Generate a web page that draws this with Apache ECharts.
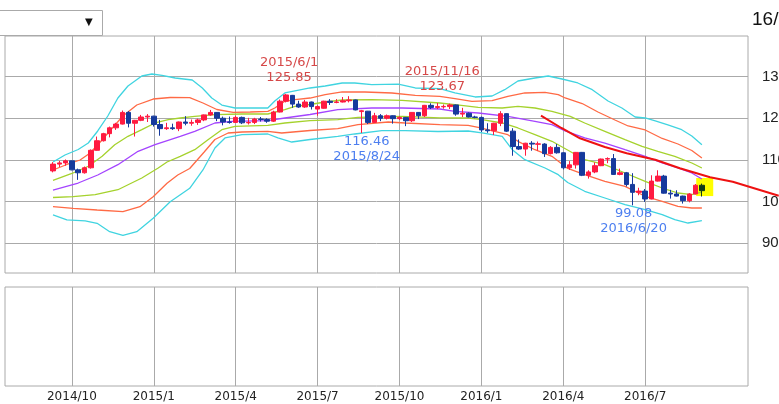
<!DOCTYPE html>
<html><head><meta charset="utf-8">
<script src="https://cdn.jsdelivr.net/npm/echarts@6/dist/echarts.min.js"></script>
<style>html,body{margin:0;padding:0;background:#fff}#c{width:779px;height:404px}</style>
</head><body><div id="c"></div>
<script>
// ---- weekly candles (Monday of each week) ----
const dates = [
'2014-09-15','2014-09-22','2014-09-29','2014-10-06','2014-10-13','2014-10-20','2014-10-27','2014-11-03','2014-11-10','2014-11-17','2014-11-24','2014-12-01','2014-12-08','2014-12-15','2014-12-22','2014-12-29',
'2015-01-05','2015-01-12','2015-01-19','2015-01-26','2015-02-02','2015-02-09','2015-02-16','2015-02-23','2015-03-02','2015-03-09','2015-03-16','2015-03-23','2015-03-30','2015-04-06','2015-04-13','2015-04-20','2015-04-27','2015-05-04','2015-05-11','2015-05-18','2015-05-25','2015-06-01','2015-06-08','2015-06-15','2015-06-22','2015-06-29','2015-07-06','2015-07-13','2015-07-20','2015-07-27','2015-08-03','2015-08-10','2015-08-17','2015-08-24','2015-08-31','2015-09-07','2015-09-14','2015-09-21','2015-09-28','2015-10-05','2015-10-12','2015-10-19','2015-10-26','2015-11-02','2015-11-09','2015-11-16','2015-11-23','2015-11-30','2015-12-07','2015-12-14','2015-12-21','2015-12-28',
'2016-01-04','2016-01-11','2016-01-18','2016-01-25','2016-02-01','2016-02-08','2016-02-15','2016-02-22','2016-02-29','2016-03-07','2016-03-14','2016-03-21','2016-03-28','2016-04-04','2016-04-11','2016-04-18','2016-04-25','2016-05-02','2016-05-09','2016-05-16','2016-05-23','2016-05-30','2016-06-06','2016-06-13','2016-06-20','2016-06-27','2016-07-04','2016-07-11','2016-07-18','2016-07-25','2016-08-01','2016-08-08','2016-08-15','2016-08-22','2016-08-29','2016-09-05'];
const opens = [107.35,108.98,109.27,109.76,107.6,106.9,108.1,112.3,114.6,116.3,117.7,118.6,121.4,118.8,119.5,120.3,
120.5,118.5,117.5,117.7,117.5,119.1,118.8,119.0,119.6,120.8,121.4,120.0,119.1,119.0,120.2,118.9,119.0,119.8,119.7,119.3,121.5,124.1,125.5,123.4,122.7,123.9,122.2,122.4,124.1,123.8,123.9,124.2,124.4,121.6,121.7,119.0,120.6,120.0,120.6,119.9,120.2,119.4,121.4,120.6,123.1,122.6,122.75,122.8,123.2,121.0,121.2,120.3,
120.2,117.2,117.0,118.8,121.1,116.9,113.2,112.6,114.0,113.75,113.8,111.5,113.0,111.7,108.1,108.8,111.8,106.3,107.1,108.6,110.2,110.3,106.5,106.9,104.1,102.2,102.5,100.6,104.9,106.1,102.0,101.8,101.3,100.2,101.8,103.9];
const closes = [108.98,109.27,109.76,107.6,106.9,108.1,112.3,114.6,116.3,117.7,118.6,121.4,118.8,119.5,120.3,120.5,
118.5,117.5,117.7,117.5,119.1,118.8,119.0,119.6,120.8,121.4,120.0,119.1,119.0,120.2,118.9,119.0,119.8,119.7,119.3,121.5,124.1,125.6,123.4,122.7,123.9,122.8,122.8,124.1,123.8,123.9,124.2,124.4,122.0,121.8,119.0,120.6,120.0,120.6,119.9,120.2,119.4,121.4,120.6,123.1,122.6,122.8,122.85,123.2,121.0,121.2,120.3,120.2,
117.2,117.0,118.8,121.1,116.9,113.2,112.6,114.0,113.8,113.85,111.5,113.0,111.7,108.1,108.8,111.8,106.3,107.1,108.6,110.2,110.3,106.5,106.9,104.1,102.2,102.5,100.6,104.9,106.1,102.0,101.8,101.3,100.2,101.8,103.9,102.6];
const lows = [107.0,108.3,108.6,107.5,105.2,106.7,107.9,112.2,114.4,115.4,117.2,118.5,117.8,115.6,119.3,119.1,
118.0,115.8,117.2,117.2,116.9,118.3,118.2,118.4,119.3,120.6,119.3,118.3,118.7,118.9,118.6,118.5,118.6,119.2,118.9,119.1,121.4,123.8,122.5,122.5,122.5,122.1,120.6,122.3,123.2,123.6,123.8,123.8,121.9,116.46,118.6,118.9,119.3,119.7,118.7,119.6,118.1,119.1,119.8,120.3,122.2,122.2,122.3,122.2,120.6,120.3,120.2,120.0,
116.7,116.5,115.97,118.1,116.7,110.99,112.4,111.0,112.2,112.2,110.7,111.3,111.5,107.7,107.6,107.9,106.1,105.5,106.8,108.5,109.2,106.4,106.3,103.6,99.08,101.5,99.9,100.5,104.8,101.9,100.7,101.2,99.5,99.8,101.7,101.2];
const highs = [109.46,109.75,110.09,109.8,107.9,108.4,112.5,115.6,116.5,118.0,118.9,121.85,121.7,119.6,120.8,121.0,
120.6,119.6,118.9,118.7,119.2,120.5,119.7,119.9,120.9,122.0,121.5,120.4,120.4,120.6,120.4,120.1,120.1,120.3,120.0,121.8,124.5,125.85,125.6,124.2,124.4,124.0,123.1,124.2,124.6,124.6,125.1,125.3,124.5,122.0,121.75,121.3,121.0,120.9,120.7,120.5,120.3,121.5,121.5,123.2,123.6,123.67,123.3,123.5,123.3,122.5,121.4,120.6,
120.4,118.8,118.9,121.7,121.2,117.6,114.9,114.1,114.5,114.4,114.0,113.3,113.8,111.8,109.7,111.9,111.9,107.5,109.4,110.3,110.6,111.4,107.9,107.1,106.8,103.3,103.0,106.3,107.5,106.4,102.8,102.7,101.4,102.0,104.2,104.3];

// ---- band lines [week index, value] ----
const band3Up = [[0,109.49],[1.9,111.17],[4.0,112.49],[5.6,114.05],[7.1,116.94],[8.7,120.54],[10.3,124.86],[11.9,127.75],[14.1,130.15],[15.7,130.63],[17.3,130.32],[19.4,129.67],[22.1,129.19],[23.7,127.27],[25.2,124.86],[26.8,123.18],[28.9,122.46],[31.6,122.46],[34.1,122.46],[35.2,124.14],[36.8,126.07],[38.4,126.55],[40.8,127.27],[43.2,127.75],[45.9,128.47],[47.9,128.47],[50.6,128.06],[54.8,128.2],[57.5,127.27],[61.4,127.10],[63.8,126.07],[67.0,125.11],[69.7,125.35],[71.7,126.86],[73.8,128.95],[76.5,129.67],[78.6,130.15],[80.8,129.43],[83.3,128.47],[85.6,126.86],[88.1,124.14],[90.3,122.46],[92.4,120.30],[94.0,120.06],[95.6,119.34],[97.6,118.38],[99.8,117.25],[101.4,115.74],[103.0,113.65]];
const band2Up = [[0,107.57],[2.2,108.89],[4.3,109.97],[5.9,111.65],[7.5,114.29],[9.0,116.94],[11.1,120.54],[13.3,123.18],[15.9,124.62],[18.6,124.98],[21.7,124.94],[23.8,123.66],[26.0,122.10],[28.6,121.43],[31.3,121.50],[34.1,121.67],[35.2,122.46],[36.8,124.07],[38.4,124.46],[40.8,124.86],[43.2,125.66],[45.9,126.31],[49.5,126.31],[53.8,126.07],[57.5,125.51],[61.4,125.27],[63.8,124.70],[66.5,124.07],[69.7,124.22],[72.2,125.27],[74.9,126.07],[78.1,126.23],[80.2,125.66],[81.3,124.87],[84.0,123.54],[86.5,121.50],[89.2,119.58],[91.3,118.14],[94.0,117.18],[96.7,115.14],[99.2,113.81],[101.4,112.25],[103.0,110.45]];
const band1Up = [[0,105.05],[3.0,106.73],[5.6,108.46],[7.8,110.86],[9.8,113.65],[11.9,115.66],[14.1,117.25],[16.2,118.86],[18.3,119.65],[20.2,120.06],[22.5,120.47],[25.7,120.85],[30.0,121.02],[34.1,121.02],[36.8,122.05],[38.4,122.87],[40.8,123.30],[43.2,123.90],[45.9,124.38],[50.6,124.46],[55.4,124.31],[61.4,123.66],[63.8,123.26],[67.5,122.63],[71.3,122.46],[73.8,122.87],[76.5,122.46],[79.2,121.67],[82.1,120.47],[84.4,118.86],[87.6,116.86],[90.8,114.85],[93.5,113.26],[96.0,112.06],[98.7,110.86],[101.4,109.25],[103.0,108.05]];
const avgLine = [[0,102.76],[4.0,104.44],[7.1,106.37],[10.3,108.84],[13.5,112.06],[16.2,113.65],[20.2,115.66],[22.5,116.86],[25.7,118.86],[28.4,119.27],[34.1,119.41],[36.8,120.06],[40.8,120.90],[45.2,122.05],[50.6,122.46],[55.4,122.46],[61.4,122.22],[63.8,121.67],[67.5,121.26],[72.2,120.47],[76.5,119.27],[79.2,118.45],[81.3,116.94],[84.4,115.26],[87.6,114.05],[90.8,112.44],[94.0,110.86],[96.7,109.25],[99.2,108.05],[101.4,106.85],[103.0,105.41]];
const band1Dn = [[0,100.96],[3.2,101.15],[6.7,101.63],[10.3,102.83],[14.1,105.65],[16.7,108.05],[18.1,109.49],[20.2,110.86],[22.5,112.44],[24.6,114.85],[26.8,117.25],[28.9,118.07],[34.1,118.31],[36.8,118.86],[40.8,119.41],[45.2,119.65],[48.4,120.23],[55.4,120.47],[61.4,120.11],[65.9,120.06],[68.1,119.65],[71.3,118.86],[73.8,117.66],[76.5,116.05],[79.2,114.46],[82.1,112.01],[84.4,110.04],[87.6,108.84],[90.8,106.85],[94.0,104.85],[96.7,103.24],[99.2,102.04],[101.4,101.63],[103.0,102.28]];
const band2Dn = [[0,98.75],[3.2,98.37],[7.0,97.96],[11.1,97.55],[13.8,98.75],[15.9,101.15],[18.1,104.37],[19.8,106.37],[21.7,107.93],[24.0,111.89],[25.7,114.89],[27.8,116.46],[30.0,116.70],[34.1,116.86],[36.3,116.46],[40.8,117.06],[45.2,117.49],[48.4,118.45],[53.2,119.10],[55.9,118.86],[61.4,118.45],[65.9,118.31],[67.5,117.83],[69.0,117.25],[72.2,116.05],[73.8,114.46],[76.5,112.44],[79.2,110.86],[81.7,107.93],[84.4,106.44],[87.6,104.85],[90.8,103.65],[94.0,101.25],[96.7,100.05],[99.2,98.85],[101.4,98.44],[103.0,98.44]];
const band3Dn = [[0,96.76],[2.2,95.56],[5.1,95.32],[7.0,94.76],[9.0,92.74],[11.1,91.83],[13.3,92.74],[15.9,95.96],[18.6,99.95],[21.7,103.17],[23.8,107.57],[25.7,112.85],[27.3,115.26],[30.0,116.05],[34.1,116.22],[35.7,115.26],[37.9,114.29],[40.8,114.89],[45.2,115.66],[47.9,116.22],[52.2,117.01],[55.9,117.01],[61.1,116.82],[65.9,116.94],[68.1,116.46],[71.3,115.66],[72.9,112.44],[74.9,110.04],[78.1,108.05],[80.2,106.44],[81.7,104.56],[84.4,102.45],[87.6,100.84],[90.8,99.23],[94.0,98.03],[96.7,96.83],[98.7,95.63],[100.8,94.83],[103.0,95.39]];
const trendLine = [[77.46,120.61],[80.7,117.66],[83.65,115.18],[87.6,113.1],[91.06,111.58],[95.6,110.04],[99.5,107.98],[104.3,105.81],[107.9,104.76],[115.2,101.39]];

// ---- axis ticks ----
const quarterDates = ['2014-10-06','2015-01-05','2015-04-06','2015-07-06','2015-10-05','2016-01-04','2016-04-04','2016-07-04'];
const quarterLabels = ['2014/10','2015/1','2015/4','2015/7','2015/10','2016/1','2016/4','2016/7'];
const yTicks = [90,100,110,120,130];

// ---- annotated extremes ----
const annoIdx = [37, 61, 49, 92];
const annoKind = ['high','high','low','low'];

const quarterIdx = quarterDates.map(d => dates.indexOf(d));
const lastIdx = dates.length - 1;
const candleData = dates.map((d, i) => {
  const v = [i, opens[i], closes[i], lows[i], highs[i]];
  if (i === lastIdx) return {value: v, itemStyle: {color:'#123c17', color0:'#123c17', borderColor:'#123c17', borderColor0:'#123c17'}};
  return v;
});
function fmtDate(s){ const p = s.split('-'); return p[0] + '/' + (+p[1]) + '/' + (+p[2]); }
const annoOffsets = [[3,-23.5],[5,-23.5],[5,16.5],[1,16]];
const markPts = annoIdx.map((idx, k) => {
  const hi = annoKind[k] === 'high';
  const val = hi ? highs[idx] : lows[idx];
  const txt = hi ? fmtDate(dates[idx]) + '\n' + val.toFixed(2) : val.toFixed(2) + '\n' + fmtDate(dates[idx]);
  return {
    coord: [idx, val], symbol: 'circle', symbolSize: 1,
    itemStyle: {color: 'rgba(0,0,0,0)'},
    label: {show: true, position: 'inside', offset: annoOffsets[k], formatter: txt,
      color: hi ? '#d64848' : '#4d7ff0', fontSize: 13, lineHeight: 15, fontFamily: 'DejaVu Sans'}
  };
});

// layout
const W = 779, GL = 5, GR = 31;
const X_MIN = -7.62, X_MAX = 110.32;
const Y_MIN = 82.82, Y_MAX = 139.76;
// overlay grid spanning to the canvas edge with the same scale (for the trend line)
const X_MAX_WIDE = X_MIN + (X_MAX - X_MIN) * (W - GL) / (W - GL - GR);
const gridColor = '#aaaaaa';
function bandSeries(name, data, color){
  return {type:'line', name, data, xAxisIndex:0, yAxisIndex:0, symbol:'none', smooth:false,
    lineStyle:{color, width:1.3}, z:2, silent:true};
}

const chart = echarts.init(document.getElementById('c'));
chart.setOption({
  animation: false,
  backgroundColor: '#fff',
  grid: [
    {left:GL, right:GR, top:36, height:237, show:true, borderColor:gridColor, borderWidth:1, backgroundColor:'#fff', containLabel:false, outerBoundsMode:'none'},
    {left:GL, right:GR, top:287, height:99, show:true, borderColor:gridColor, borderWidth:1, backgroundColor:'#fff', containLabel:false, outerBoundsMode:'none'},
    {left:GL, right:0, top:36, height:237, show:false, containLabel:false, outerBoundsMode:'none'}
  ],
  xAxis: [
    {type:'value', gridIndex:0, min:X_MIN, max:X_MAX,
      axisLine:{show:false}, axisTick:{show:false, customValues: quarterIdx}, axisLabel:{show:false, customValues: quarterIdx},
      splitLine:{show:true, lineStyle:{color:gridColor, width:1}}},
    {type:'value', gridIndex:1, min:X_MIN, max:X_MAX,
      axisLine:{show:false}, axisTick:{show:false, customValues: quarterIdx},
      axisLabel:{show:true, customValues: quarterIdx, margin:5, fontSize:12, color:'#222', fontFamily:'DejaVu Sans',
        formatter: v => quarterLabels[quarterIdx.indexOf(Math.round(v))] || ''},
      splitLine:{show:true, lineStyle:{color:gridColor, width:1}}},
    {type:'value', gridIndex:2, min:X_MIN, max:X_MAX_WIDE, show:false}
  ],
  yAxis: [
    {type:'value', gridIndex:0, position:'right', min:Y_MIN, max:Y_MAX,
      axisLine:{show:false},
      axisTick:{show:true, length:7, lineStyle:{color:gridColor}, customValues: yTicks},
      axisLabel:{show:true, customValues: yTicks, margin:14, fontSize:15, color:'#222', fontFamily:'Liberation Sans'},
      splitLine:{show:true, lineStyle:{color:gridColor, width:1}}},
    {type:'value', gridIndex:1, min:0, max:1, axisLine:{show:false}, axisTick:{show:false}, axisLabel:{show:false}, splitLine:{show:false}},
    {type:'value', gridIndex:2, min:Y_MIN, max:Y_MAX, show:false}
  ],
  graphic: [
    {type:'rect', left:-1, top:10, shape:{width:103, height:25}, style:{fill:'#fff', stroke:'#aaa', lineWidth:1}},
    {type:'text', left:85, top:17, style:{text:'▼', fontSize:10, fill:'#111', fontFamily:'DejaVu Sans'}},
    {type:'text', left:752, top:10, style:{text:'16/09/09', fontSize:19, fill:'#111', fontFamily:'Liberation Sans'}}
  ],
  series: [
    bandSeries('+3σ', band3Up, '#40d4e0'),
    bandSeries('-3σ', band3Dn, '#40d4e0'),
    bandSeries('+2σ', band2Up, '#ff6a45'),
    bandSeries('-2σ', band2Dn, '#ff6a45'),
    bandSeries('+1σ', band1Up, '#a5d22d'),
    bandSeries('-1σ', band1Dn, '#a5d22d'),
    bandSeries('MA', avgLine, '#a444ff'),
    {type:'candlestick', name:'price', xAxisIndex:0, yAxisIndex:0,
      dimensions:['idx','open','close','lowest','highest'],
      encode:{x:'idx', y:['open','close','lowest','highest']},
      data: candleData, barWidth:5, z:3,
      itemStyle:{color:'#ff1a40', color0:'#163a9c', borderColor:'#ff1a40', borderColor0:'#163a9c', borderWidth:1},
      markArea:{silent:true, itemStyle:{color:'#ffff00', opacity:1},
        data:[[{coord:[lastIdx-0.9, highs[lastIdx]+1.35]},{coord:[lastIdx+1.8, lows[lastIdx]+0.1]}]]},
      markPoint:{silent:true, data: markPts}
    },
    {type:'line', name:'trend', data: trendLine, xAxisIndex:2, yAxisIndex:2, symbol:'none', clip:false,
      lineStyle:{color:'#ee1111', width:2}, z:4, silent:true}
  ]
});
</script></body></html>
